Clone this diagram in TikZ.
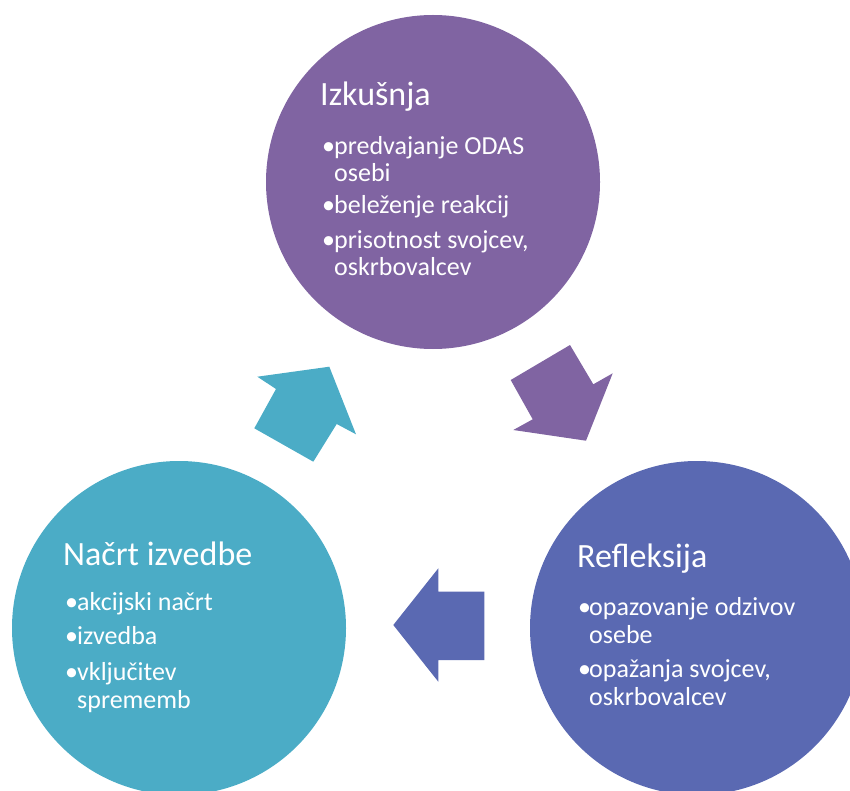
\documentclass[tikz,border=0pt]{standalone}
\usepackage{fontspec}
\setmainfont{Carlito}
\definecolor{cpurple}{HTML}{8064A2}
\definecolor{cteal}{HTML}{4BACC6}
\definecolor{cblue}{HTML}{5A69B2}
\begin{document}
\begin{tikzpicture}[x=1pt,y=-1pt,
  disc/.style={circle,minimum size=334pt,inner sep=0pt},
  ttl/.style={anchor=base west,inner sep=0pt,text=white,font=\fontsize{34}{34}\selectfont},
  txt/.style={anchor=base west,inner sep=0pt,text=white,font=\fontsize{26}{26}\selectfont},
  bul/.style={anchor=base west,inner sep=0pt,text=white,font=\fontsize{26}{26}\selectfont}]
\useasboundingbox (0,0) rectangle (850,791);
\begin{scope}
\clip (0,0) rectangle (850,791);
% circles
\node[disc,fill=cpurple] (izk) at (433,182) {};
\node[disc,fill=cteal] (nac) at (179,628) {};
\node[disc,fill=cblue] (ref) at (697,628) {};
% arrows
\fill[cteal] (257.3,376.7) -- (329.3,366.7) -- (356,434.3) -- (336.7,424) -- (313.3,461.7) -- (254.3,428.3) -- (276,389) -- cycle;
\fill[cpurple] (510.7,380) -- (570,345) -- (593.3,384.3) -- (612.7,373.3) -- (586,440.7) -- (513.3,430) -- (532.7,419.3) -- cycle;
\fill[cblue] (393.3,625) -- (438.3,568.3) -- (438.3,591.7) -- (484.3,591.7) -- (484.3,660) -- (438.3,660) -- (438.3,681.7) -- cycle;
\end{scope}
% top texts
\node[ttl] (t1) at (320,106) {Izkušnja};
\node[bul] (t1b1) at (322,155) {•};
\node[txt] (t1a) at (334,155) {predvajanje ODAS};
\node[txt] (t1b) at (334,182) {osebi};
\node[bul] (t1b2) at (322,214) {•};
\node[txt] (t1c) at (334,214) {beleženje reakcij};
\node[bul] (t1b3) at (322,249) {•};
\node[txt] (t1d) at (334,249) {prisotnost svojcev,};
\node[txt] (t1e) at (334,276) {oskrbovalcev};
% left texts
\node[ttl] (t2) at (63,565) {Načrt izvedbe};
\node[bul] (t2b1) at (65,610) {•};
\node[txt] (t2a) at (77,610) {akcijski načrt};
\node[bul] (t2b2) at (65,644) {•};
\node[txt] (t2b) at (77,644) {izvedba};
\node[bul] (t2b3) at (65,680) {•};
\node[txt] (t2c) at (77,680) {vključitev};
\node[txt] (t2d) at (77,708) {sprememb};
% right texts
\node[ttl] (t3) at (577,567) {Refleksija};
\node[bul] (t3b1) at (578,615) {•};
\node[txt] (t3a) at (589,615) {opazovanje odzivov};
\node[txt] (t3b) at (589,643) {osebe};
\node[bul] (t3b2) at (578,677) {•};
\node[txt] (t3c) at (589,677) {opažanja svojcev,};
\node[txt] (t3d) at (589,705) {oskrbovalcev};
\end{tikzpicture}
\end{document}
